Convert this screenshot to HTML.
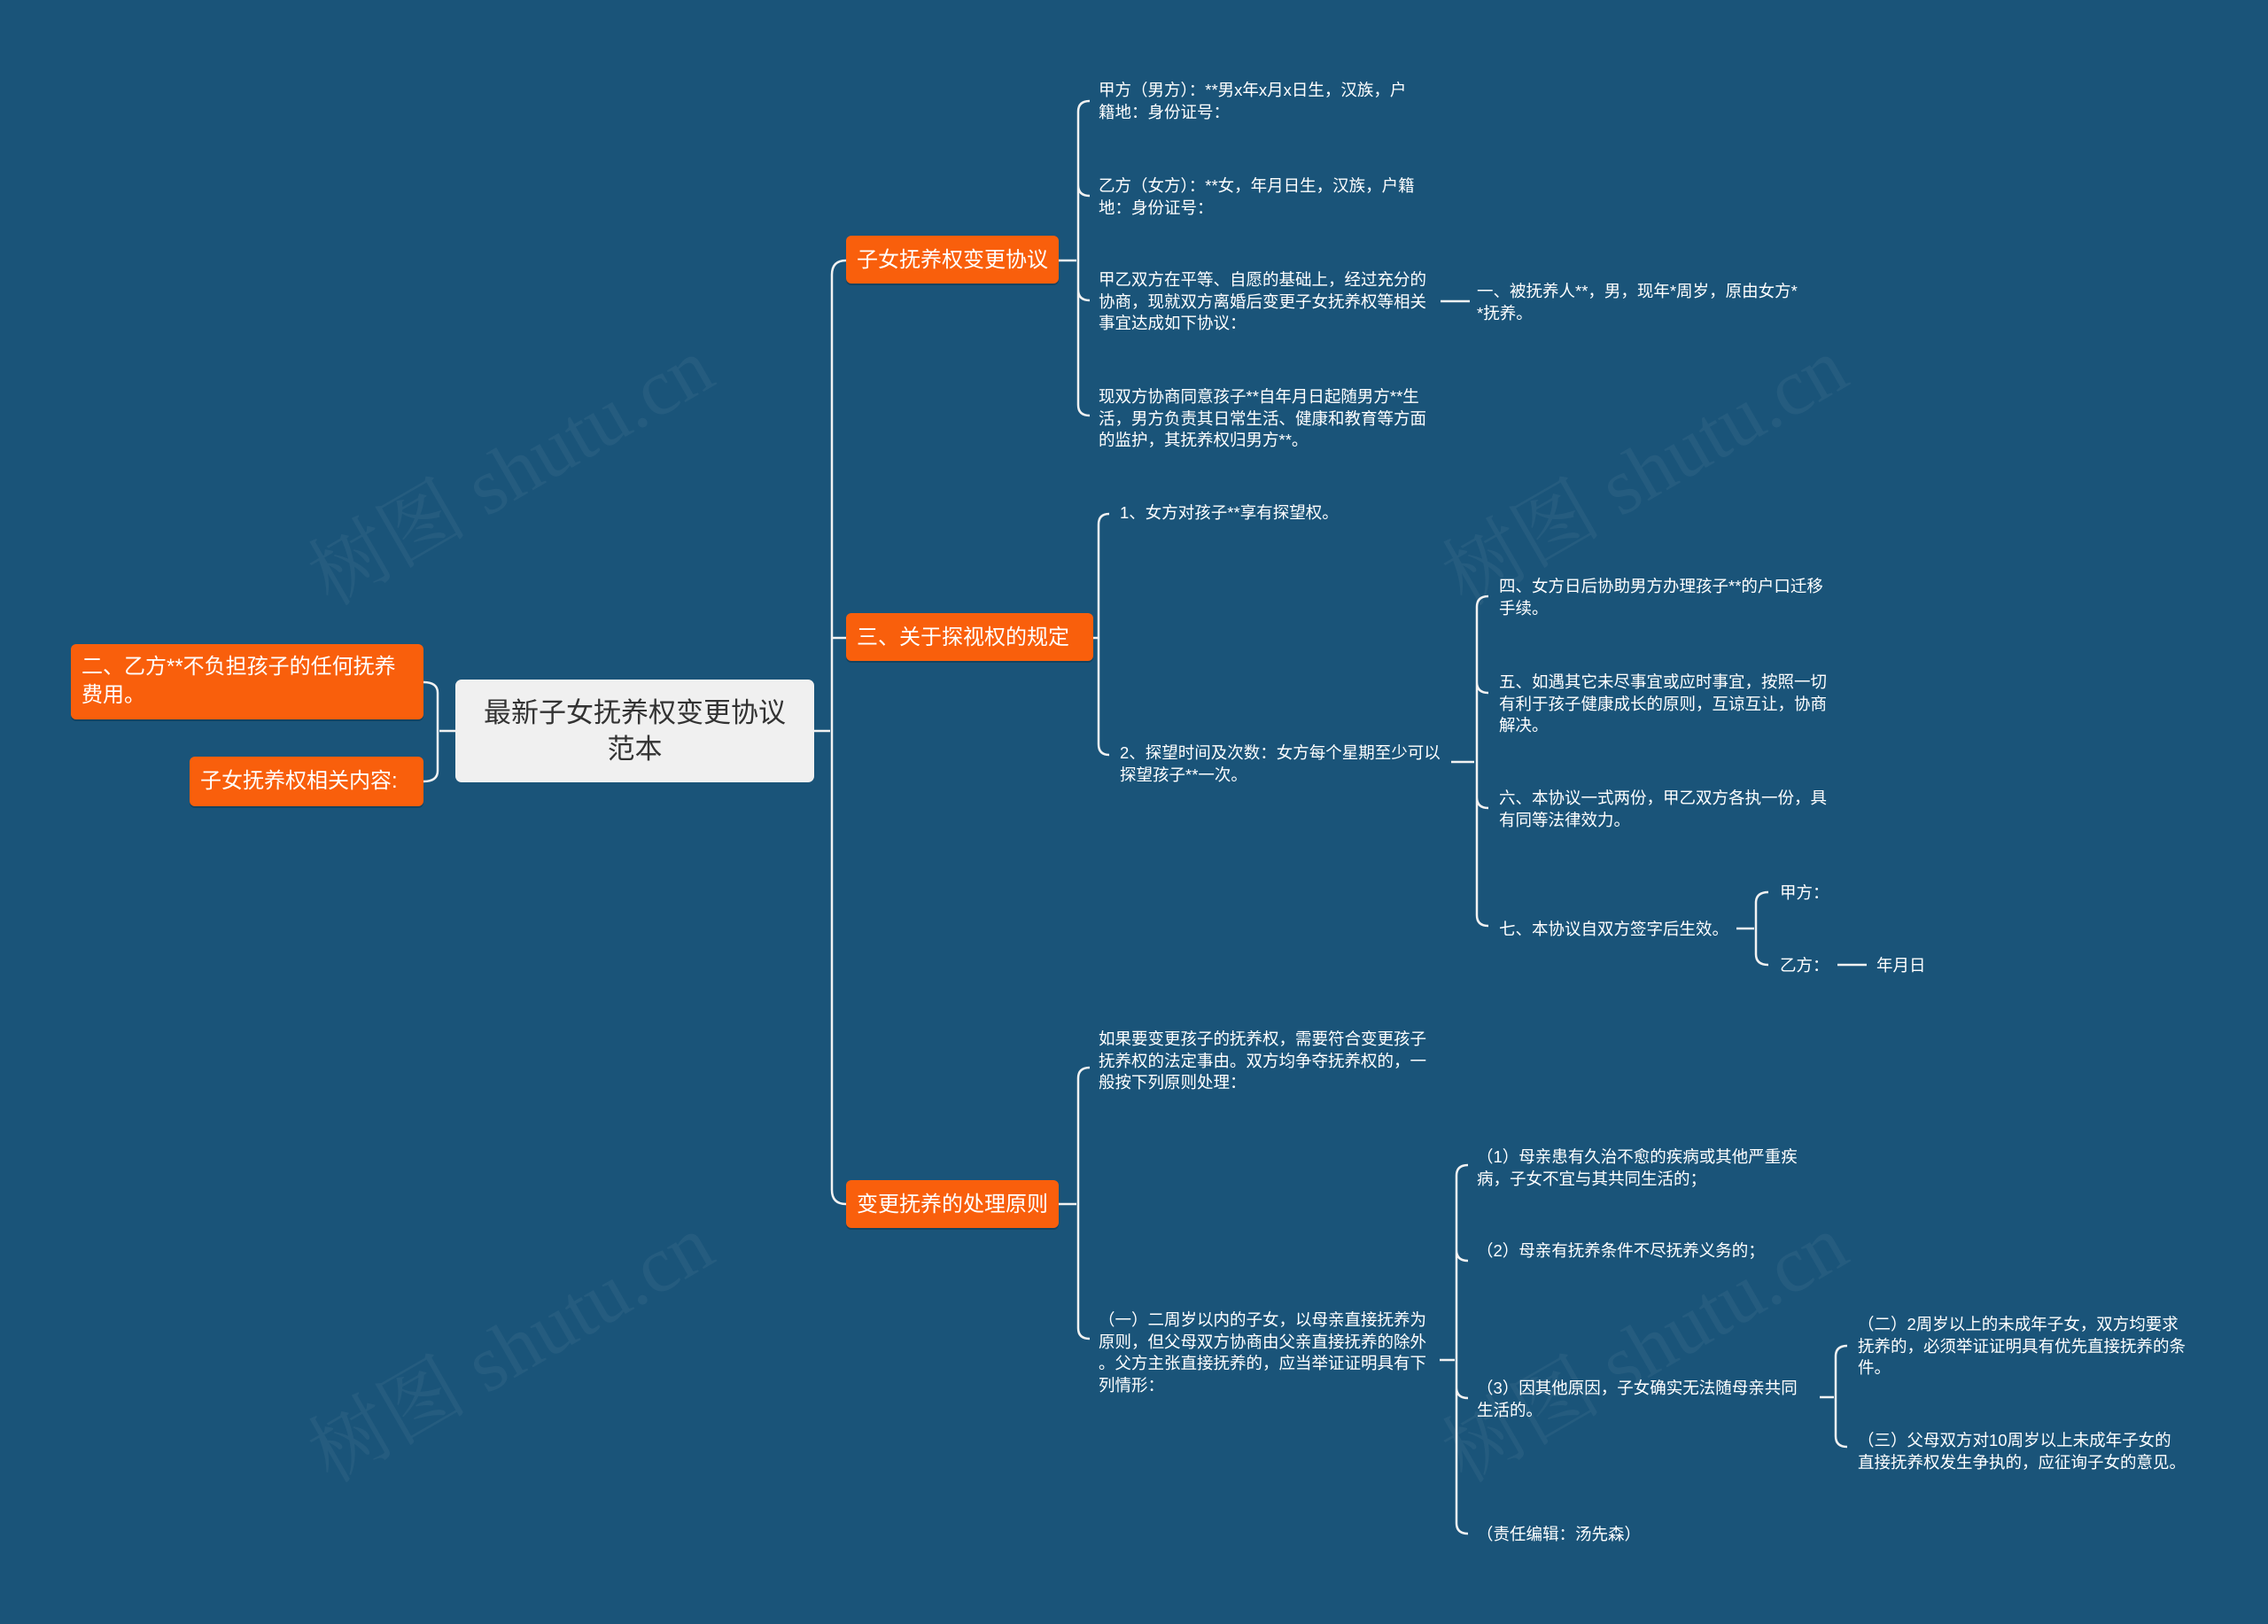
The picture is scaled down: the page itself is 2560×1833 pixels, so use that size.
<!DOCTYPE html>
<html><head><meta charset="utf-8">
<style>
body{margin:0;width:2560px;height:1833px;background:#1a5479;overflow:hidden;position:relative;font-family:"Liberation Sans","Noto Sans CJK SC",sans-serif;}
.t{position:absolute;color:#fff;font-size:18.5px;line-height:24.5px;white-space:nowrap;}
.o{position:absolute;background:#f95f0c;color:#fff;border-radius:6px;font-size:24px;line-height:32px;box-sizing:border-box;box-shadow:0 2px 0 rgba(0,0,0,.2);}
.wm{position:absolute;color:rgba(255,255,255,0.05);font-size:90px;font-family:"Liberation Serif","Noto Serif CJK SC",serif;transform:rotate(-30deg);white-space:nowrap;}
</style></head><body>
<div class="wm" style="left:320px;top:460px;">树图 shutu.cn</div>
<div class="wm" style="left:1600px;top:460px;">树图 shutu.cn</div>
<div class="wm" style="left:320px;top:1450px;">树图 shutu.cn</div>
<div class="wm" style="left:1600px;top:1450px;">树图 shutu.cn</div>
<svg width="2560" height="1833" style="position:absolute;left:0;top:0" fill="none" stroke="#f2f2f2" stroke-width="2.5">
<path d="M514 825 L496 825 M478 770 Q494 770 494 782 L494 870 Q494 882 478 882"/>
<path d="M919 825 L937 825 M955 294 Q939 294 939 310 L939 1343 Q939 1359 955 1359 M939 720 L955 720"/>
<path d="M1195 294 L1215 294 M1230 114 Q1217 114 1217 126 L1217 457 Q1217 469 1230 469 M1217 209 Q1217 221 1230 221 M1217 327 Q1217 339 1230 339"/>
<path d="M1626 340 L1659 340"/>
<path d="M1234 720 L1239 720 M1252 580 Q1240 580 1240 592 L1240 840 Q1240 852 1252 852"/>
<path d="M1638 860 L1664 860 M1680 673 Q1667 673 1667 685 L1667 1033 Q1667 1045 1680 1045 M1667 770 Q1667 782 1680 782 M1667 900 Q1667 912 1680 912"/>
<path d="M1960 1048 L1980 1048 M1996 1007 Q1982 1007 1982 1019 L1982 1077 Q1982 1089 1996 1089 M2074 1089 L2107 1089"/>
<path d="M1195 1359 L1215 1359 M1230 1205 Q1217 1205 1217 1217 L1217 1499 Q1217 1511 1230 1511"/>
<path d="M1625 1535 L1642 1535 M1657 1315 Q1644 1315 1644 1327 L1644 1719 Q1644 1731 1657 1731 M1644 1411 Q1644 1423 1657 1423 M1644 1566 Q1644 1578 1657 1578"/>
<path d="M2054 1577 L2070 1577 M2085 1519 Q2072 1519 2072 1531 L2072 1621 Q2072 1633 2085 1633"/>
</svg>
<div style="position:absolute;left:514px;top:767px;width:405px;height:116px;background:#f0f0f0;border-radius:7px;color:#333;font-size:31px;line-height:41px;text-align:center;display:flex;align-items:center;justify-content:center;box-sizing:border-box;padding:0 20px;">最新子女抚养权变更协议范本</div>
<div class="o" style="left:80px;top:727px;width:398px;height:85px;padding:10px 12px;">二、乙方**不负担孩子的任何抚养费用。</div>
<div class="o" style="left:214px;top:854px;width:264px;height:56px;padding:12px 12px;">子女抚养权相关内容:</div>
<div class="o" style="left:955px;top:266px;width:240px;height:54px;padding:12px 12px;">子女抚养权变更协议</div>
<div class="o" style="left:955px;top:692px;width:279px;height:54px;padding:12px 12px;">三、关于探视权的规定</div>
<div class="o" style="left:955px;top:1332px;width:240px;height:54px;padding:12px 12px;">变更抚养的处理原则</div>

<div class="t" style="left:1240px;top:90px;">甲方（男方）：**男x年x月x日生，汉族，户<br>籍地：身份证号：</div>
<div class="t" style="left:1240px;top:198px;">乙方（女方）：**女，年月日生，汉族，户籍<br>地：身份证号：</div>
<div class="t" style="left:1240px;top:304px;">甲乙双方在平等、自愿的基础上，经过充分的<br>协商，现就双方离婚后变更子女抚养权等相关<br>事宜达成如下协议：</div>
<div class="t" style="left:1240px;top:436px;">现双方协商同意孩子**自年月日起随男方**生<br>活，男方负责其日常生活、健康和教育等方面<br>的监护，其抚养权归男方**。</div>
<div class="t" style="left:1667px;top:317px;">一、被抚养人**，男，现年*周岁，原由女方*<br>*抚养。</div>
<div class="t" style="left:1264px;top:567px;">1、女方对孩子**享有探望权。</div>
<div class="t" style="left:1264px;top:838px;">2、探望时间及次数：女方每个星期至少可以<br>探望孩子**一次。</div>
<div class="t" style="left:1692px;top:650px;">四、女方日后协助男方办理孩子**的户口迁移<br>手续。</div>
<div class="t" style="left:1692px;top:758px;">五、如遇其它未尽事宜或应时事宜，按照一切<br>有利于孩子健康成长的原则，互谅互让，协商<br>解决。</div>
<div class="t" style="left:1692px;top:889px;">六、本协议一式两份，甲乙双方各执一份，具<br>有同等法律效力。</div>
<div class="t" style="left:1692px;top:1037px;">七、本协议自双方签字后生效。</div>
<div class="t" style="left:2009px;top:996px;">甲方：</div>
<div class="t" style="left:2009px;top:1078px;">乙方：</div>
<div class="t" style="left:2118px;top:1078px;">年月日</div>
<div class="t" style="left:1240px;top:1161px;">如果要变更孩子的抚养权，需要符合变更孩子<br>抚养权的法定事由。双方均争夺抚养权的，一<br>般按下列原则处理：</div>
<div class="t" style="left:1240px;top:1478px;">（一）二周岁以内的子女，以母亲直接抚养为<br>原则，但父母双方协商由父亲直接抚养的除外<br>。父方主张直接抚养的，应当举证证明具有下<br>列情形：</div>
<div class="t" style="left:1667px;top:1294px;">（1）母亲患有久治不愈的疾病或其他严重疾<br>病，子女不宜与其共同生活的；</div>
<div class="t" style="left:1667px;top:1400px;">（2）母亲有抚养条件不尽抚养义务的；</div>
<div class="t" style="left:1667px;top:1555px;">（3）因其他原因，子女确实无法随母亲共同<br>生活的。</div>
<div class="t" style="left:2097px;top:1483px;">（二）2周岁以上的未成年子女，双方均要求<br>抚养的，必须举证证明具有优先直接抚养的条<br>件。</div>
<div class="t" style="left:2097px;top:1614px;">（三）父母双方对10周岁以上未成年子女的<br>直接抚养权发生争执的，应征询子女的意见。</div>
<div class="t" style="left:1667px;top:1720px;">（责任编辑：汤先森）</div>
</body></html>
